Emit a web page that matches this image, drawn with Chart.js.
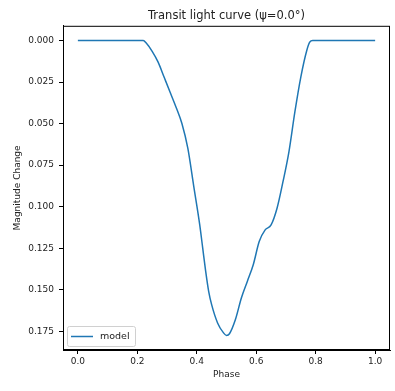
<!DOCTYPE html>
<html>
<head>
<meta charset="utf-8">
<script src="https://cdn.jsdelivr.net/npm/chart.js@4"></script>
<style>
  body { margin: 0; background: #fff; }
  #wrap { width: 395px; height: 391px; position: relative; }
</style>
</head>
<body>
<div id="wrap"><canvas id="js--chart"></canvas></div>
<script>
// values
const phases = [0.00, 0.10, 0.22, 0.23, 0.25, 0.27, 0.29, 0.31, 0.33, 0.35, 0.37, 0.39, 0.41, 0.42, 0.43, 0.44,
  0.45, 0.47, 0.49, 0.50, 0.51, 0.53, 0.55, 0.57, 0.59, 0.61, 0.63, 0.65, 0.67, 0.69, 0.71, 0.73,
  0.75, 0.77, 0.78, 0.79, 0.90, 1.00];
const magnitudes = [0, 0, 0, 0.0015, 0.0065, 0.013, 0.022, 0.031, 0.040, 0.050, 0.065, 0.088, 0.111, 0.125, 0.139, 0.151,
  0.159, 0.170, 0.176, 0.1775, 0.1765, 0.168, 0.155, 0.145, 0.135, 0.121, 0.114, 0.111, 0.101, 0.085, 0.067, 0.043,
  0.022, 0.006, 0.001, 0, 0, 0];
const xTicks = [0.0, 0.2, 0.4, 0.6, 0.8, 1.0];
const yTicks = [0.000, 0.025, 0.050, 0.075, 0.100, 0.125, 0.150, 0.175];

const font = "'DejaVu Sans', sans-serif";
const blue = "#1f77b4";

const points = phases.map(function (p, i) {
    return { x: p, y: magnitudes[i] };
});

// box around the plot + legend in lower left, like matplotlib
const framePlugin = {
    id: "frame",
    afterDraw: function (chart) {
        const ctx = chart.ctx;
        const a = chart.chartArea;
        ctx.save();
        ctx.strokeStyle = "#000";
        ctx.lineWidth = 1;
        ctx.strokeRect(a.left + 0.5, a.top + 0.5, a.right - a.left - 1, a.bottom - a.top - 1);

        const bx = a.left + 4, by = a.bottom - 24, bw = 68, bh = 20;
        ctx.fillStyle = "rgba(255,255,255,0.8)";
        ctx.strokeStyle = "#d0d0d0";
        ctx.beginPath();
        ctx.roundRect(bx + 0.5, by + 0.5, bw, bh, 2);
        ctx.fill();
        ctx.stroke();
        ctx.strokeStyle = blue;
        ctx.lineWidth = 1.5;
        ctx.beginPath();
        ctx.moveTo(bx + 4, by + bh / 2 + 0.5);
        ctx.lineTo(bx + 26, by + bh / 2 + 0.5);
        ctx.stroke();
        ctx.fillStyle = "#222";
        ctx.font = "9.5px " + font;
        ctx.textBaseline = "middle";
        ctx.fillText(chart.data.datasets[0].label, bx + 33, by + bh / 2 + 0.5);
        ctx.restore();
    }
};

new Chart(document.getElementById("js--chart"), {
    type: "line",
    data: {
        datasets: [{
            label: "model",
            data: points,
            borderColor: blue,
            borderWidth: 1.5,
            pointRadius: 0,
            cubicInterpolationMode: "monotone",
            fill: false
        }]
    },
    options: {
        responsive: true,
        maintainAspectRatio: false,
        animation: false,
        layout: { padding: { left: 0, right: 5, top: 0, bottom: 0 } },
        plugins: {
            legend: { display: false },
            tooltip: { enabled: false },
            title: {
                display: true,
                fullSize: false,
                text: "Transit light curve (ψ=0.0°)",
                color: "#222",
                font: { family: font, size: 11.5, weight: "normal" },
                padding: { top: 9, bottom: 3 }
            }
        },
        scales: {
            x: {
                type: "linear",
                min: -0.05,
                max: 1.05,
                afterFit: function (s) { s.height = 41; },
                afterBuildTicks: function (s) {
                    s.ticks = xTicks.map(function (v) { return { value: v }; });
                },
                ticks: {
                    color: "#222",
                    font: { family: font, size: 9 },
                    padding: 2,
                    maxRotation: 0,
                    callback: function (v) { return v.toFixed(1); }
                },
                grid: { drawOnChartArea: false, drawTicks: true, tickLength: 4, color: "#000" },
                border: { display: true, color: "#000" },
                title: {
                    display: true,
                    text: "Phase",
                    color: "#222",
                    font: { family: font, size: 9 },
                    padding: { top: 0, bottom: 10.5 }
                }
            },
            y: {
                type: "linear",
                reverse: true,
                min: -0.00885,
                max: 0.1863,
                afterFit: function (s) { s.width = 63; },
                afterBuildTicks: function (s) {
                    s.ticks = yTicks.map(function (v) { return { value: v }; });
                },
                ticks: {
                    color: "#222",
                    font: { family: font, size: 9 },
                    padding: 5,
                    callback: function (v) { return v.toFixed(3); }
                },
                grid: { drawOnChartArea: false, drawTicks: true, tickLength: 4, color: "#000" },
                border: { display: true, color: "#000" },
                title: {
                    display: true,
                    text: "Magnitude Change",
                    color: "#222",
                    font: { family: font, size: 9 },
                    padding: { top: 12.5, bottom: 0 }
                }
            }
        }
    },
    plugins: [framePlugin]
});
</script>
</body>
</html>
